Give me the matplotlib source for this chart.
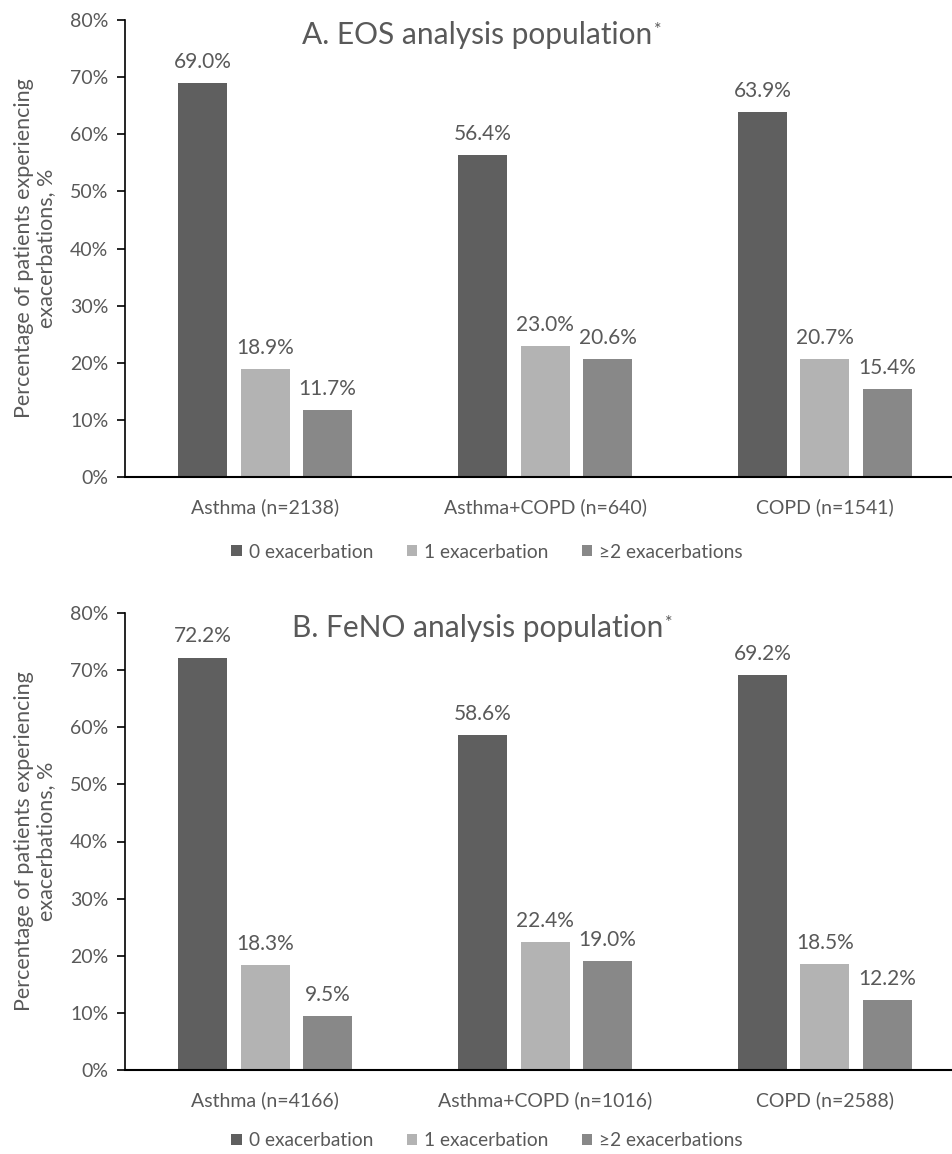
import matplotlib.pyplot as plt
import numpy as np

categories_a = ["Asthma (n=2138)", "Asthma+COPD (n=640)", "COPD (n=1541)"]
categories_b = ["Asthma (n=4166)", "Asthma+COPD (n=1016)", "COPD (n=2588)"]
series = ["0 exacerbation", "1 exacerbation", "\u22652 exacerbations"]
values_a = [[69.0, 56.4, 63.9], [18.9, 23.0, 20.7], [11.7, 20.6, 15.4]]
values_b = [[72.2, 58.6, 69.2], [18.3, 22.4, 18.5], [9.5, 19.0, 12.2]]
titles = ["A. EOS analysis population", "B. FeNO analysis population"]

colors = ["#5f5f5f", "#b3b3b3", "#888888"]
text_color = "#595959"

plt.rcParams['font.family'] = ['Lato', 'DejaVu Sans']

W, H = 953, 1154
fig = plt.figure(figsize=(W / 100, H / 100), dpi=100)


def draw_panel(rect, cats, vals, title, legend_y):
    ax = fig.add_axes(rect)
    x = np.arange(len(cats))
    width = 0.175
    step = 0.223
    for i, (name, v) in enumerate(zip(series, vals)):
        bars = ax.bar(x + (i - 1) * step, v, width, color=colors[i], label=name)
        ax.bar_label(bars, labels=[f"{val:.1f}%" for val in v], padding=8,
                     fontsize=15, color=text_color)
    ax.set_xlim(-0.5, 2.5)
    ax.set_ylim(0, 80)
    ax.set_yticks(range(0, 81, 10))
    ax.set_yticklabels([f"{t}%" for t in range(0, 81, 10)])
    ax.set_xticks(x)
    ax.set_xticklabels(cats)
    ax.tick_params(axis='x', length=0, pad=15, labelsize=14, labelcolor=text_color)
    ax.tick_params(axis='y', length=6, width=1.2, direction='out', pad=6,
                   labelsize=14, labelcolor=text_color)
    for s in ["top", "right"]:
        ax.spines[s].set_visible(False)
    ax.spines["left"].set_linewidth(1.2)
    ax.spines["bottom"].set_linewidth(1.5)
    ax.set_ylabel("Percentage of patients experiencing\nexacerbations, %",
                  fontsize=15.5, color=text_color, linespacing=1.15)
    ax.yaxis.label.set_verticalalignment('center')
    ax.yaxis.set_label_coords(-0.107, 0.5)
    t = ax.text(0.4196, 0.967, title, transform=ax.transAxes, ha='center', va='center',
                fontsize=21.5, color=text_color)
    ax.annotate("*", xy=(1, 1), xycoords=t, xytext=(1, -1), textcoords='offset points',
                ha='left', va='top', fontsize=13, color=text_color)
    fig.legend(*ax.get_legend_handles_labels(), loc='center', ncol=3,
               bbox_to_anchor=(487 / W, legend_y), frameon=False, fontsize=13.8,
               handlelength=0.55, handleheight=0.55, handletextpad=0.35,
               columnspacing=1.75, labelcolor=text_color)
    return ax


left = 125 / W
width = 840 / W
draw_panel([left, 1 - 477 / H, width, (477 - 20) / H], categories_a, values_a, titles[0], 1 - 552 / H)
draw_panel([left, 1 - 1070 / H, width, (1070 - 613) / H], categories_b, values_b, titles[1], 1 - 1141 / H)

fig.savefig("out.png", dpi=100)
